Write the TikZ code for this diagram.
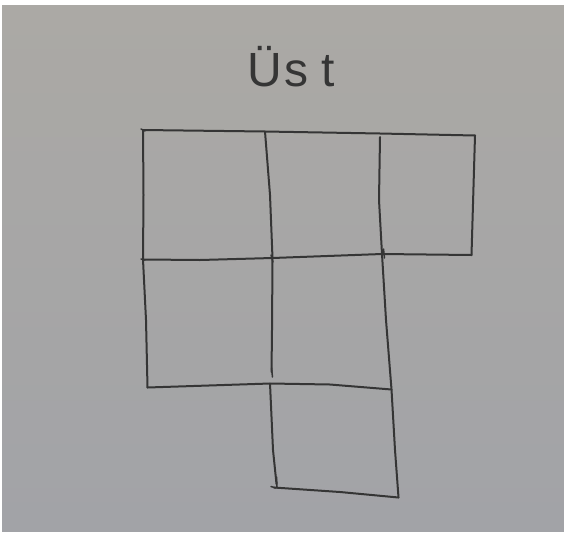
\documentclass[tikz,border=0pt]{standalone}
\usepackage{fontspec}
\setmainfont{Liberation Sans}
\usetikzlibrary{calc}
\definecolor{paperTop}{HTML}{ABA9A5}
\definecolor{paperBottom}{HTML}{A2A3A7}
\definecolor{penDark}{HTML}{353535}
\tikzset{
    pen/.style={draw=penDark,line width=2pt,line cap=round,line join=round},
    penmark/.style={draw=penDark,line width=1.5pt,line cap=round},
    headtext/.style={font=\fontsize{48}{48}\selectfont,text=penDark,inner sep=0pt}
}
\begin{document}
\begin{tikzpicture}[x=1pt,y=-1pt]
    % 纸面：上边与左边留一条白边
    \fill[white] (0,0) rectangle (564,533);
    \shade[top color=paperTop,bottom color=paperBottom] (2,5) rectangle (564,531);
    \useasboundingbox (0,0) rectangle (564,533);

    % 标题
    \node[headtext,anchor=base west] (ust) at (247,86) {Ü\hspace{3pt}s\hspace{13pt}t};

    % 格点：上行、中行、下行、底边
    \coordinate (t0) at (143,130);
    \coordinate (t1) at (265,131.5);
    \coordinate (t2) at (380,137);
    \coordinate (t3) at (475,135.5);
    \coordinate (m0) at (143,259.5);
    \coordinate (m1) at (272.5,258);
    \coordinate (m2) at (382,254);
    \coordinate (m3) at (471.5,255);
    \coordinate (b0) at (147.5,387.5);
    \coordinate (b1) at (270,383.5);
    \coordinate (b2) at (391.5,389.5);
    \coordinate (f1) at (274,487.5);
    \coordinate (f2) at (398.5,497.5);

    % 横线
    \draw[pen] (t0) -- (t1) -- (380,133.5) -- (t3);
    \draw[pen] (m0) -- (200,260) -- (m1) -- (m2) -- (m3);
    \draw[pen] (b0) -- (b1) -- (330,384.5) -- (b2);
    \draw[pen] (f1) -- (340,492) -- (f2);

    % 竖线
    \draw[pen] (t0) -- (143.5,195) -- (m0) -- (146,320) -- (b0);
    \draw[pen] (t1) -- (270,195) -- (m1) -- (272,330) -- (271.5,372);
    \draw[pen] (b1) -- (273,450) -- (276.5,484);
    \draw[pen] (t2) -- (379,200) -- (m2) -- (386,320) -- (b2) -- (395,450) -- (f2);
    \draw[pen] (t3) -- (m3);

    % 起笔的小顿点
    \draw[penmark] (141,129) -- (145,131);
    \draw[penmark] (141,259) -- (145,260);
    \draw[penmark] (271,255) -- (273,262);
    \draw[penmark] (383.5,249) -- (384.5,258);
    \draw[penmark] (271.5,368) -- (272.5,377);
    \draw[penmark] (276.5,477) -- (277,487);
    \draw[penmark] (271,486.5) -- (276,488);
\end{tikzpicture}
\end{document}
